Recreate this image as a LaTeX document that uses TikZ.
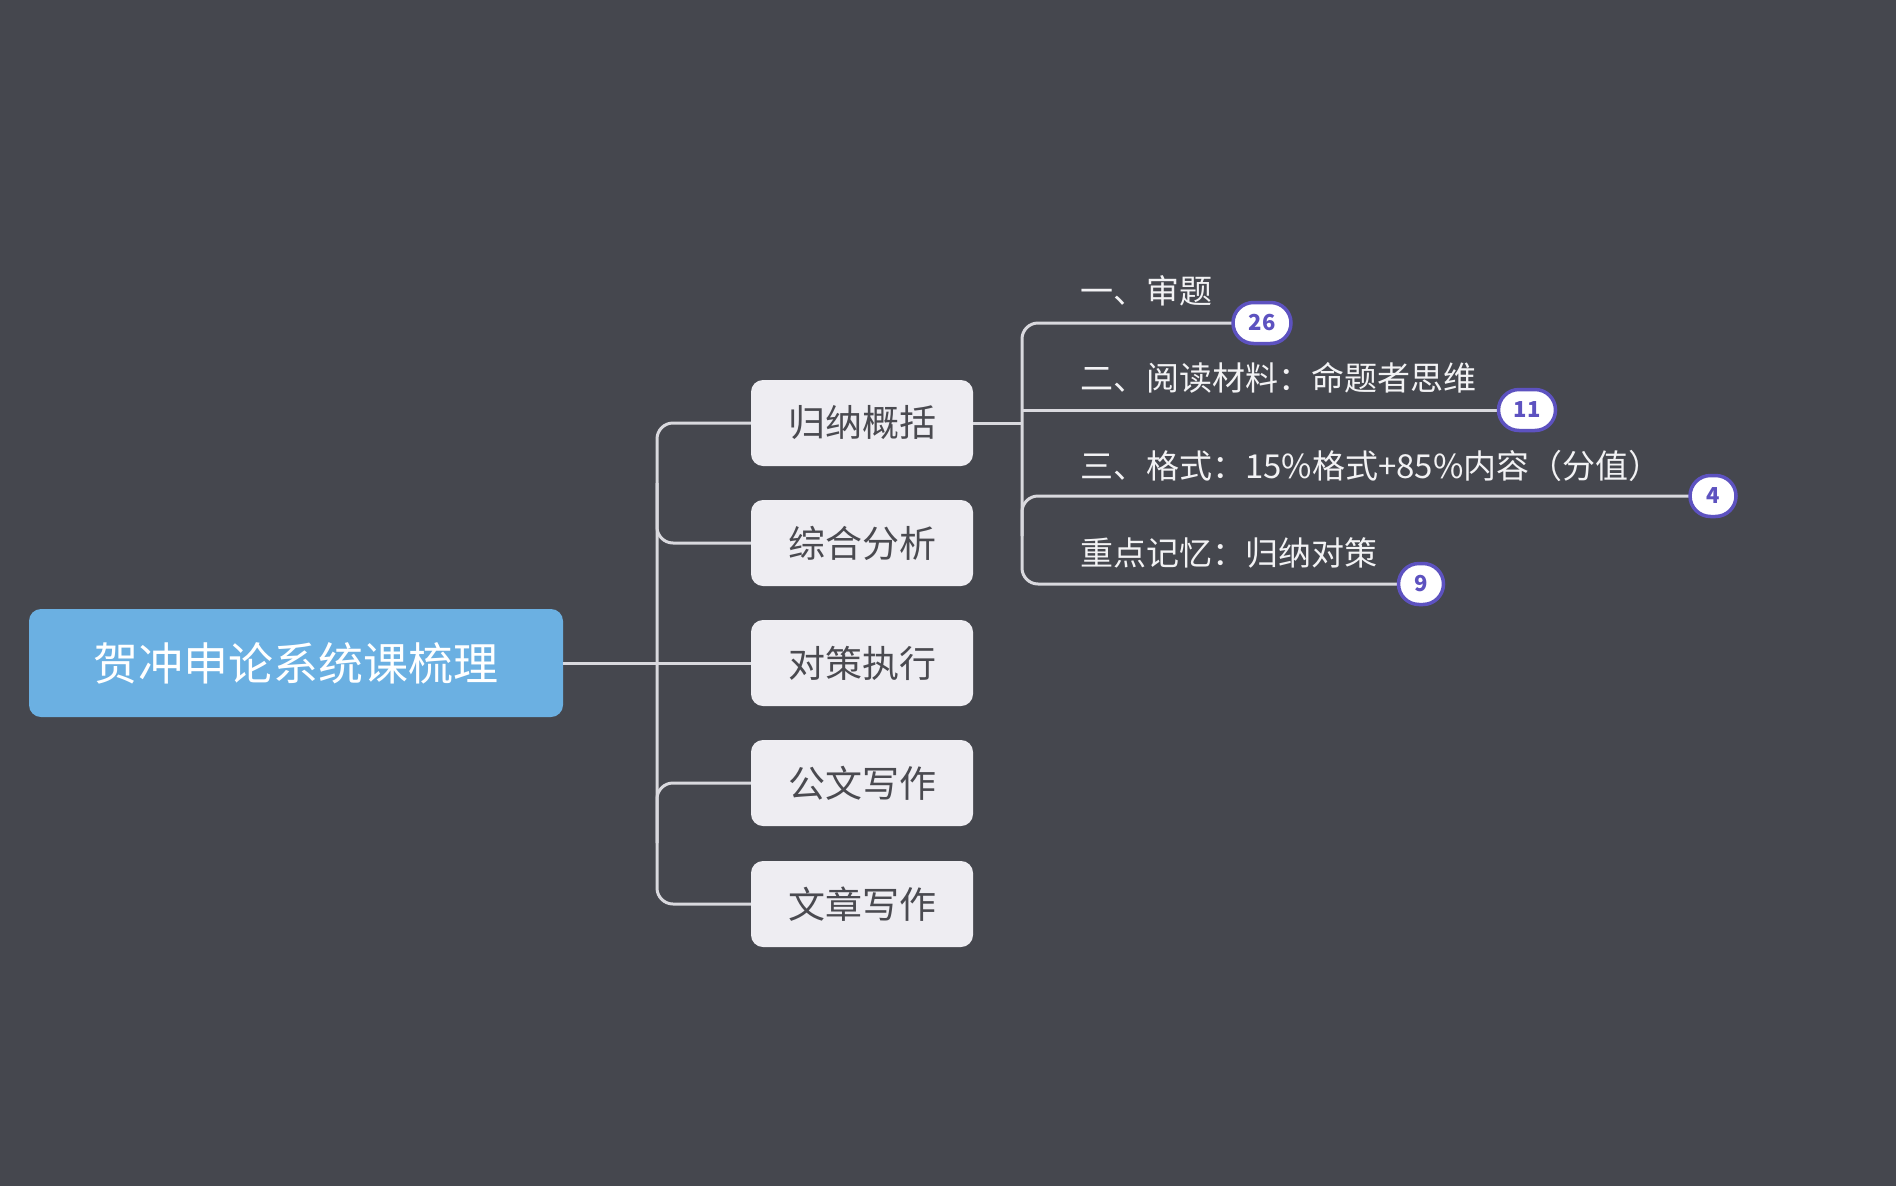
\documentclass[tikz,border=0pt]{standalone}
\usepackage{fontspec}
\usetikzlibrary{shapes.misc}
\newfontfamily\cjk{Noto Sans CJK SC}
\definecolor{bgc}{HTML}{45474E}
\definecolor{rootc}{HTML}{6BB0E2}
\definecolor{childc}{HTML}{EEEDF2}
\definecolor{childtxt}{HTML}{4A4A50}
\definecolor{linec}{HTML}{D9D9DE}
\definecolor{badgec}{HTML}{5D52C0}
\definecolor{labc}{HTML}{F2F2F4}
\begin{document}
\begin{tikzpicture}[x=1pt,y=-1pt,
  rootbox/.style={fill=rootc,rounded corners=12pt,minimum width=534pt,minimum height=108pt,inner sep=0pt,text=white,font=\cjk\fontsize{45}{45}\selectfont},
  childbox/.style={fill=childc,rounded corners=12pt,minimum width=222pt,minimum height=86pt,inner sep=0pt,text=childtxt,font=\cjk\fontsize{37}{37}\selectfont},
  leaflab/.style={anchor=west,inner sep=0pt,text=labc,font=\cjk\fontsize{33}{33}\selectfont},
  badge/.style={rounded rectangle,draw=badgec,line width=3.5pt,fill=white,minimum height=41pt,inner sep=0pt,text=badgec,font=\cjk\bfseries\fontsize{22}{22}\selectfont},
  conn/.style={draw=linec,line width=3pt,rounded corners=16pt}
]
\fill[bgc] (0,0) rectangle (1896,1186);
\useasboundingbox (0,0) rectangle (1896,1186);

\node[rootbox] (root) at (296,663) {贺冲申论系统课梳理};
\node[childbox] (c1) at (862,423) {归纳概括};
\node[childbox] (c2) at (862,543) {综合分析};
\node[childbox] (c3) at (862,663) {对策执行};
\node[childbox] (c4) at (862,783) {公文写作};
\node[childbox] (c5) at (862,904) {文章写作};

\coordinate (jl) at (657,663);
\coordinate (jr) at (1022,423);

\coordinate (p26) at (1262,323);
\coordinate (p11) at (1527,410);
\coordinate (p4) at (1713,496);
\coordinate (p9) at (1421,584);

\node[leaflab] (l1) at (1080,291) {一、审题};
\node[leaflab] (l2) at (1080,378) {二、阅读材料：命题者思维};
\node[leaflab] (l3) at (1080,466) {三、格式：15\%格式+85\%内容（分值）};
\node[leaflab] (l4) at (1080,553) {重点记忆：归纳对策};

\path[conn] (root.east) -- (c3.west);
\path[conn] (c1.west) -| (jl) |- (c5.west);
\path[conn] ([yshift=60pt]jl |- c2.west) |- (c2.west);
\path[conn] ([yshift=-60pt]jl |- c4.west) |- (c4.west);
\path[conn] (c1.east) -- (jr);
\path[conn] (p26) -| (jr) |- (p9);
\path[conn] (jr |- p11) -- (p11);
\path[conn] ([yshift=-40pt]jr |- p4) |- (p4);

\node[badge,minimum width=58pt] (b26) at (p26) {26};
\node[badge,minimum width=57pt] (b11) at (p11) {11};
\node[badge,minimum width=46pt] (b4) at (p4) {4};
\node[badge,minimum width=45pt] (b9) at (p9) {9};
\end{tikzpicture}
\end{document}
